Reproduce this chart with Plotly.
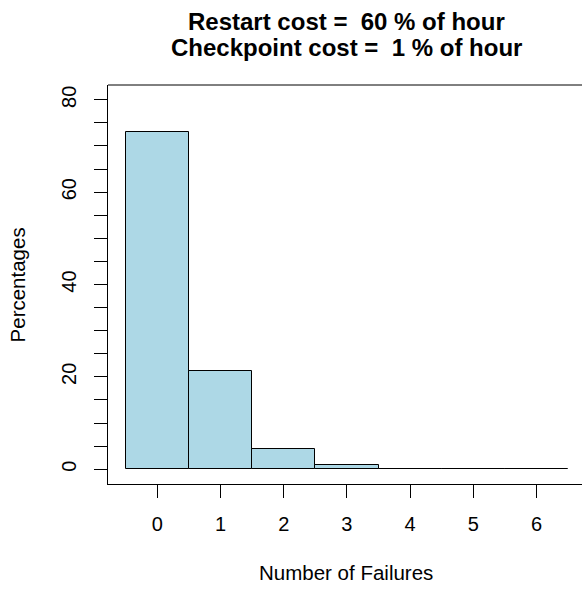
import plotly.graph_objects as go

failures = [0, 1, 2, 3, 4, 5, 6]
percentages = [73.1, 21.3, 4.4, 0.85, 0.15, 0.04, 0.01]
y_tick_vals = list(range(0, 81, 5))
y_tick_text = [str(v) if v % 20 == 0 else "" for v in y_tick_vals]
x_tick_vals = failures
x_tick_text = [str(v) for v in failures]
title_lines = ["Restart cost =  60 % of hour", "Checkpoint cost =  1 % of hour"]
x_label = "Number of Failures"
y_label = "Percentages"

FONT = "Liberation Sans, Arial, Helvetica, sans-serif"

fig = go.Figure()
fig.add_trace(go.Bar(
    x=failures, y=percentages, width=1,
    marker=dict(color="#ADD8E6", line=dict(color="black", width=1)),
    showlegend=False, hoverinfo="skip",
))

W, H = 582, 591
L, R, T, B = 108, 0, 85, 107

fig.update_layout(
    width=W, height=H,
    margin=dict(l=L, r=R, t=T, b=B, pad=0),
    paper_bgcolor="white", plot_bgcolor="white",
    font=dict(family=FONT, size=20, color="black"),
    bargap=0,
    xaxis=dict(
        range=[-0.78, 6.72], tickmode="array", tickvals=x_tick_vals, ticktext=x_tick_text,
        showgrid=False, zeroline=False, showline=True, linecolor="black", linewidth=1,
        ticks="outside", ticklen=13, tickwidth=1, tickcolor="black",
        ticklabelstandoff=9, tickfont=dict(size=20),
    ),
    yaxis=dict(
        range=[-3.2, 83.2], tickmode="array", tickvals=y_tick_vals, ticktext=y_tick_text,
        showgrid=False, zeroline=False, showline=True, linecolor="black", linewidth=1,
        ticks="outside", ticklen=13, tickwidth=1, tickcolor="black",
        tickangle=-90, ticklabelstandoff=10, tickfont=dict(size=20),
    ),
    shapes=[dict(type="line", xref="paper", yref="paper", x0=0, x1=1, y0=1, y1=1,
                 line=dict(color="black", width=1))],
    annotations=[
        dict(text="<b>%s</b>" % title_lines[0], xref="paper", yref="paper", x=0.503, y=1.159,
             xanchor="center", yanchor="middle", showarrow=False, font=dict(size=24)),
        dict(text="<b>%s</b>" % title_lines[1], xref="paper", yref="paper", x=0.503, y=1.094,
             xanchor="center", yanchor="middle", showarrow=False, font=dict(size=24)),
        dict(text=x_label, xref="paper", yref="paper", x=0.503, y=-0.223,
             xanchor="center", yanchor="middle", showarrow=False, font=dict(size=20.5)),
        dict(text=y_label, xref="paper", yref="paper", x=-0.19, y=0.5, textangle=-90,
             xanchor="center", yanchor="middle", showarrow=False, font=dict(size=20.5)),
    ],
)

fig.write_html("out.html")
